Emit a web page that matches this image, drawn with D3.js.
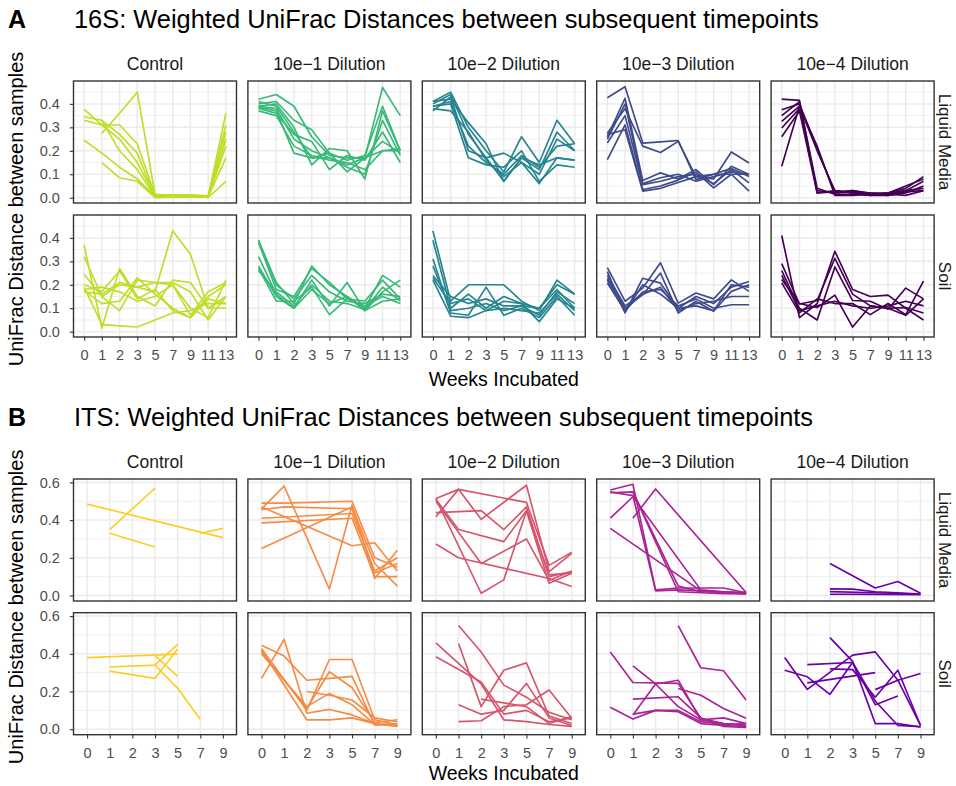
<!DOCTYPE html>
<html>
<head>
<meta charset="utf-8">
<script src="https://cdn.jsdelivr.net/npm/d3@7"></script>
<style>
  body { margin: 0; background: #fff; }
  svg { font-family: "Liberation Sans", Arial, sans-serif; }
</style>
</head>
<body>
<div id="vis"></div>
<script>
// categories
const weeks16S = ["0", "1", "2", "3", "5", "7", "9", "11", "13"];
const weeksITS = ["0", "1", "2", "3", "5", "7", "9"];
const dilutions = ["Control", "10e\u22121 Dilution", "10e\u22122 Dilution", "10e\u22123 Dilution", "10e\u22124 Dilution"];
const media = ["Liquid Media", "Soil"];
const ticks16S = [0, 0.1, 0.2, 0.3, 0.4];
const ticksITS = [0, 0.2, 0.4, 0.6];

// 16S, liquid media: one array per sample, value per week
const s16LiquidControl = [
  [0.377, 0.31, 0.31, 0.23, 0.01, 0.012, 0.01, 0.005, 0.36],
  [0.345, 0.33, 0.2, 0.12, 0.005, 0.005, 0.005, 0.003, 0.31],
  [null, 0.275, 0.36, 0.45, 0.015, 0.01, 0.012, 0.008, 0.28],
  [0.245, 0.19, 0.13, 0.08, 0.005, 0.004, 0.003, 0.002, 0.25],
  [null, 0.15, 0.085, 0.07, 0.0, 0.002, 0.004, 0.001, 0.07],
  [0.33, 0.31, 0.25, 0.15, 0.008, 0.006, 0.006, 0.004, 0.22],
  [null, 0.33, 0.27, 0.19, 0.003, 0.003, 0.002, 0.003, 0.17]
];
const s16LiquidD1 = [
  [0.42, 0.44, 0.39, 0.26, 0.18, 0.17, 0.17, 0.47, 0.35],
  [0.40, 0.41, 0.33, 0.29, 0.19, 0.16, 0.18, 0.39, 0.2],
  [0.39, 0.40, 0.30, 0.14, 0.21, 0.2, 0.08, 0.37, 0.2],
  [0.38, 0.36, 0.27, 0.24, 0.12, 0.18, 0.16, 0.28, 0.15],
  [0.41, 0.39, 0.28, 0.17, 0.17, 0.14, 0.17, 0.24, 0.19],
  [0.37, 0.35, 0.22, 0.18, 0.16, 0.15, 0.12, 0.20, 0.21],
  [0.39, 0.38, 0.25, 0.2, 0.17, 0.13, 0.1, 0.33, 0.18],
  [0.385, 0.37, 0.19, 0.17, 0.19, 0.11, 0.17, 0.2, 0.2]
];
const s16LiquidD2 = [
  [0.41, 0.45, 0.30, 0.2, 0.11, 0.26, 0.15, 0.33, 0.23],
  [0.40, 0.44, 0.27, 0.17, 0.07, 0.17, 0.12, 0.28, 0.2],
  [0.39, 0.40, 0.17, 0.14, 0.13, 0.2, 0.07, 0.14, 0.13],
  [0.37, 0.43, 0.2, 0.17, 0.19, 0.15, 0.06, 0.17, 0.16],
  [0.38, 0.37, 0.28, 0.16, 0.09, 0.15, 0.1, 0.25, 0.2],
  [0.41, 0.42, 0.32, 0.23, 0.07, 0.17, 0.14, 0.17, 0.16],
  [0.39, 0.41, 0.22, 0.15, 0.1, 0.18, 0.13, 0.22, 0.23]
];
const s16LiquidD3 = [
  [0.426, 0.473, 0.233, 0.238, 0.244, 0.077, 0.1, 0.1, 0.1],
  [0.275, 0.38, 0.22, 0.193, 0.24, 0.09, 0.08, 0.195, 0.148],
  [0.26, 0.424, 0.073, 0.106, 0.08, 0.12, 0.056, 0.134, 0.099],
  [0.233, 0.35, 0.056, 0.07, 0.09, 0.1, 0.06, 0.12, 0.063],
  [0.162, 0.31, 0.035, 0.05, 0.075, 0.11, 0.042, 0.1, 0.028],
  [0.27, 0.29, 0.028, 0.04, 0.065, 0.09, 0.1, 0.125, 0.09],
  [0.25, 0.4, 0.06, 0.085, 0.1, 0.07, 0.09, 0.11, 0.1]
];
const s16LiquidD4 = [
  [0.42, 0.415, 0.02, 0.03, 0.02, 0.015, 0.02, 0.04, 0.09],
  [0.375, 0.40, 0.21, 0.02, 0.03, 0.02, 0.015, 0.03, 0.07],
  [0.325, 0.39, 0.2, 0.03, 0.02, 0.01, 0.01, 0.02, 0.05],
  [0.297, 0.38, 0.03, 0.02, 0.025, 0.02, 0.02, 0.03, 0.04],
  [0.26, 0.37, 0.02, 0.025, 0.03, 0.015, 0.01, 0.025, 0.03],
  [0.134, 0.39, 0.22, 0.01, 0.01, 0.015, 0.015, 0.01, 0.03],
  [0.35, 0.41, 0.04, 0.015, 0.015, 0.01, 0.02, 0.05, 0.08]
];

// 16S, soil
const s16SoilControl = [
  [0.37, 0.015, 0.27, 0.15, 0.11, 0.22, 0.21, 0.1, 0.1],
  [0.32, 0.15, 0.2, 0.19, 0.17, 0.43, 0.33, 0.1, 0.15],
  [0.245, 0.15, 0.09, 0.22, 0.21, 0.2, 0.07, 0.17, 0.21],
  [0.19, 0.03, 0.025, 0.02, 0.05, 0.08, 0.09, 0.12, 0.12],
  [0.18, 0.19, 0.17, 0.13, 0.15, 0.2, 0.1, 0.06, 0.22],
  [0.17, 0.16, 0.21, 0.19, 0.21, 0.21, 0.17, 0.05, 0.15],
  [0.2, 0.17, 0.26, 0.14, 0.18, 0.09, 0.06, 0.14, 0.12],
  [0.175, 0.12, 0.13, 0.23, 0.16, 0.1, 0.06, 0.15, 0.2]
];
const s16SoilD1 = [
  [0.39, 0.21, 0.12, 0.28, 0.2, 0.15, 0.1, 0.24, 0.19],
  [0.38, 0.18, 0.15, 0.27, 0.21, 0.14, 0.13, 0.22, 0.14],
  [0.32, 0.16, 0.1, 0.22, 0.11, 0.21, 0.09, 0.17, 0.22],
  [0.27, 0.13, 0.13, 0.19, 0.073, 0.14, 0.11, 0.15, 0.12],
  [0.26, 0.17, 0.11, 0.2, 0.13, 0.12, 0.095, 0.19, 0.13],
  [0.39, 0.2, 0.14, 0.24, 0.17, 0.13, 0.12, 0.16, 0.15],
  [0.28, 0.15, 0.1, 0.18, 0.12, 0.15, 0.09, 0.13, 0.14]
];
const s16SoilD2 = [
  [0.43, 0.13, 0.2, 0.2, 0.2, 0.13, 0.09, 0.22, 0.16],
  [0.39, 0.1, 0.16, 0.1, 0.15, 0.12, 0.1, 0.18, 0.1],
  [0.31, 0.08, 0.07, 0.19, 0.07, 0.1, 0.06, 0.15, 0.07],
  [0.24, 0.15, 0.12, 0.14, 0.11, 0.11, 0.1, 0.2, 0.16],
  [0.22, 0.066, 0.06, 0.09, 0.13, 0.12, 0.043, 0.14, 0.1],
  [0.23, 0.12, 0.14, 0.09, 0.1, 0.09, 0.08, 0.16, 0.09],
  [0.28, 0.09, 0.1, 0.12, 0.09, 0.11, 0.07, 0.17, 0.12]
];
const s16SoilD3 = [
  [0.273, 0.13, 0.186, 0.294, 0.122, 0.165, 0.14, 0.221, 0.172],
  [0.256, 0.08, 0.228, 0.207, 0.1, 0.15, 0.12, 0.19, 0.214],
  [0.228, 0.1, 0.158, 0.25, 0.08, 0.13, 0.087, 0.172, 0.2],
  [0.207, 0.09, 0.17, 0.18, 0.11, 0.14, 0.1, 0.115, 0.115],
  [0.24, 0.11, 0.16, 0.19, 0.09, 0.12, 0.13, 0.15, 0.15],
  [0.22, 0.085, 0.2, 0.16, 0.1, 0.11, 0.09, 0.2, 0.19]
];
const s16SoilD4 = [
  [0.41, 0.06, 0.12, 0.343, 0.18, 0.15, 0.156, 0.1, 0.05],
  [0.29, 0.118, 0.133, 0.313, 0.16, 0.11, 0.1, 0.07, 0.14],
  [0.26, 0.1, 0.05, 0.276, 0.133, 0.13, 0.096, 0.186, 0.14],
  [0.223, 0.12, 0.103, 0.156, 0.02, 0.11, 0.1, 0.103, 0.08],
  [0.208, 0.08, 0.14, 0.12, 0.12, 0.073, 0.12, 0.073, 0.216],
  [0.24, 0.09, 0.11, 0.13, 0.11, 0.1, 0.11, 0.13, 0.11]
];

// ITS, liquid media
const itsLiquidControl = [
  [0.485, null, null, null, null, null, 0.307],
  [null, null, null, null, null, 0.33, 0.356],
  [null, 0.35, null, 0.57, null, null, null],
  [null, 0.33, null, 0.257, null, null, null]
];
const itsLiquidD1 = [
  [0.49, 0.49, null, null, 0.50, 0.2, 0.15],
  [0.46, 0.58, null, 0.034, 0.48, 0.09, 0.24],
  [0.41, null, null, null, 0.435, 0.13, 0.2],
  [0.385, null, null, null, 0.41, 0.1, 0.1],
  [0.25, null, null, null, 0.47, 0.17, 0.05],
  [0.47, null, null, null, 0.264, 0.28, 0.13],
  [0.455, 0.47, null, null, 0.46, 0.12, 0.17]
];
const itsLiquidD2 = [
  [0.418, 0.563, null, null, 0.494, 0.16, 0.23],
  [0.515, 0.563, 0.404, null, 0.585, 0.127, 0.224],
  [0.44, null, 0.45, 0.35, 0.47, 0.1, 0.127],
  [0.515, null, 0.012, 0.083, 0.45, 0.065, 0.118],
  [0.273, 0.2, null, null, null, 0.09, 0.048],
  [0.51, 0.35, null, 0.286, 0.45, 0.11, 0.12],
  [0.5, null, 0.17, null, 0.3, 0.08, 0.13]
];
const itsLiquidD3 = [
  [0.56, 0.59, 0.03, 0.04, 0.04, 0.04, 0.015],
  [0.545, 0.55, null, 0.05, 0.02, 0.02, 0.012],
  [0.41, 0.524, null, null, 0.03, 0.02, 0.016],
  [null, 0.41, 0.565, null, null, null, 0.016],
  [0.356, null, null, null, 0.025, 0.02, 0.01],
  [0.55, 0.53, 0.025, 0.03, 0.025, 0.015, 0.01],
  [null, 0.55, null, 0.02, 0.015, 0.01, 0.008]
];
const itsLiquidD4 = [
  [null, null, 0.17, null, 0.04, 0.074, 0.012],
  [null, null, 0.035, 0.034, 0.02, 0.015, 0.008],
  [null, null, 0.021, null, 0.015, null, 0.007],
  [null, null, 0.007, null, 0.006, null, 0.004]
];

// ITS, soil
const itsSoilControl = [
  [0.38, null, null, null, 0.398, null, null],
  [null, 0.33, null, 0.34, 0.45, null, null],
  [null, 0.308, null, 0.27, 0.425, null, null],
  [null, null, null, 0.39, 0.28, null, null],
  [null, null, null, 0.34, 0.217, 0.053, null]
];
const itsSoilD1 = [
  [0.27, 0.476, 0.085, 0.105, 0.076, 0.03, 0.02],
  [0.446, 0.388, 0.26, 0.27, 0.28, 0.023, 0.03],
  [0.428, null, 0.1, 0.37, 0.37, 0.05, 0.023],
  [0.41, null, 0.11, 0.305, 0.22, 0.035, 0.05],
  [0.42, null, 0.05, 0.05, 0.06, 0.03, 0.015],
  [null, null, 0.2, 0.18, 0.155, 0.06, 0.04],
  [0.4, null, 0.12, 0.19, 0.13, 0.025, 0.02]
];
const itsSoilD2 = [
  [0.458, null, 0.24, 0.05, 0.04, 0.025, 0.015],
  [0.384, null, 0.25, 0.08, 0.1, 0.04, 0.06],
  [null, 0.55, 0.41, 0.234, 0.17, 0.09, 0.05],
  [null, 0.455, 0.12, 0.313, 0.352, 0.07, 0.03],
  [null, 0.13, 0.08, 0.1, 0.243, 0.06, 0.02],
  [null, 0.04, 0.045, 0.12, 0.13, 0.208, 0.058],
  [null, null, 0.16, 0.14, 0.12, 0.03, 0.067]
];
const itsSoilD3 = [
  [0.41, 0.248, null, 0.243, 0.058, 0.03, 0.02],
  [0.116, 0.054, 0.1, 0.093, 0.03, 0.02, 0.013],
  [null, 0.336, 0.24, 0.12, 0.05, 0.06, 0.03],
  [null, 0.16, null, 0.172, 0.06, 0.015, 0.01],
  [null, 0.075, 0.24, 0.26, 0.05, 0.03, 0.02],
  [null, null, null, 0.55, 0.326, 0.31, 0.155],
  [null, null, null, 0.216, 0.18, 0.11, 0.058],
  [null, 0.08, 0.1, 0.1, 0.04, 0.025, 0.03]
];
const itsSoilD4 = [
  [0.38, 0.211, null, 0.393, 0.41, 0.26, 0.296],
  [0.313, 0.278, 0.185, 0.354, 0.13, 0.176, null],
  [null, 0.343, null, 0.354, 0.15, 0.02, 0.014],
  [null, null, 0.486, 0.36, 0.03, 0.03, 0.012],
  [null, null, 0.32, 0.316, 0.17, 0.313, 0.02],
  [null, 0.246, null, null, 0.3, null, null],
  [null, null, null, null, 0.21, 0.26, 0.02]
];

const width = 956, height = 786;
const panelLeft = 73.5, panelW = 163, panelGap = 11.4, panelH = 122;

const sections = [
  {
    tag: "A",
    title: "16S: Weighted UniFrac Distances between subsequent timepoints",
    titleY: 28, stripY: 70, rowTops: [81, 215], xTitleY: 386,
    weeks: weeks16S, ticks: ticks16S, minor: [0.05, 0.15, 0.25, 0.35, 0.45],
    domain: [-0.0225, 0.4975],
    color: i => d3.interpolateViridis(0.9 - 0.225 * i),
    data: [
      [s16LiquidControl, s16LiquidD1, s16LiquidD2, s16LiquidD3, s16LiquidD4],
      [s16SoilControl, s16SoilD1, s16SoilD2, s16SoilD3, s16SoilD4]
    ]
  },
  {
    tag: "B",
    title: "ITS: Weighted UniFrac Distances between subsequent timepoints",
    titleY: 426, stripY: 468, rowTops: [479, 612.7], xTitleY: 780,
    weeks: weeksITS, ticks: ticksITS, minor: [0.1, 0.3, 0.5],
    domain: [-0.029, 0.618],
    color: i => d3.interpolatePlasma(0.9 - 0.175 * i),
    data: [
      [itsLiquidControl, itsLiquidD1, itsLiquidD2, itsLiquidD3, itsLiquidD4],
      [itsSoilControl, itsSoilD1, itsSoilD2, itsSoilD3, itsSoilD4]
    ]
  }
];

const svg = d3.select("#vis")
  .append("svg")
  .attr("width", width)
  .attr("height", height);

sections.forEach(sec => {
  // headers
  svg.append("text")
    .attr("x", 8).attr("y", sec.titleY)
    .attr("font-size", 25).attr("font-weight", "bold")
    .text(sec.tag);
  svg.append("text")
    .attr("x", 74).attr("y", sec.titleY)
    .attr("font-size", 25.4)
    .text(sec.title);

  dilutions.forEach((dil, c) => {
    const x0 = panelLeft + c * (panelW + panelGap);
    const x = d3.scalePoint().domain(sec.weeks).range([x0, x0 + panelW]).padding(0.6);

    svg.append("text")
      .attr("x", x0 + panelW / 2).attr("y", sec.stripY)
      .attr("text-anchor", "middle")
      .attr("font-size", 17.5).attr("fill", "#1a1a1a")
      .text(dil);

    media.forEach((med, r) => {
      const top = sec.rowTops[r];
      const y = d3.scaleLinear().domain(sec.domain).range([top + panelH, top]);
      const g = svg.append("g");

      // grid
      g.selectAll(".minor").data(sec.minor).enter().append("line")
        .attr("x1", x0).attr("x2", x0 + panelW)
        .attr("y1", d => y(d)).attr("y2", d => y(d))
        .attr("stroke", "#ebebeb").attr("stroke-width", 0.8);
      g.selectAll(".major").data(sec.ticks).enter().append("line")
        .attr("x1", x0).attr("x2", x0 + panelW)
        .attr("y1", d => y(d)).attr("y2", d => y(d))
        .attr("stroke", "#ebebeb").attr("stroke-width", 1.5);
      g.selectAll(".vgrid").data(sec.weeks).enter().append("line")
        .attr("x1", d => x(d)).attr("x2", d => x(d))
        .attr("y1", top).attr("y2", top + panelH)
        .attr("stroke", "#ebebeb").attr("stroke-width", 1.5);

      // lines
      const line = d3.line().x(d => x(d.w)).y(d => y(d.v));
      const series = sec.data[r][c].map(arr =>
        arr.map((v, i) => ({ w: sec.weeks[i], v })).filter(p => p.v !== null));
      g.selectAll(".series").data(series).enter().append("path")
        .attr("d", line)
        .attr("fill", "none")
        .attr("stroke", sec.color(c))
        .attr("stroke-width", 1.65)
        .attr("stroke-linejoin", "round");

      // border
      g.append("rect")
        .attr("x", x0).attr("y", top)
        .attr("width", panelW).attr("height", panelH)
        .attr("fill", "none").attr("stroke", "#333333").attr("stroke-width", 1.4);

      if (c === 0) {
        const ax = svg.append("g")
          .attr("transform", `translate(${x0},0)`)
          .call(d3.axisLeft(y).tickValues(sec.ticks).tickFormat(d3.format(".1f")).tickSize(3.7).tickPadding(10));
        ax.select(".domain").remove();
        ax.selectAll("line").attr("stroke", "#333333").attr("stroke-width", 1.1);
        ax.selectAll("text").attr("font-size", 14.5).attr("fill", "#4d4d4d")
          .attr("font-family", '"Liberation Sans", Arial, sans-serif');
      }
      if (r === 1) {
        const ax = svg.append("g")
          .attr("transform", `translate(0,${top + panelH})`)
          .call(d3.axisBottom(x).tickSize(3.7).tickPadding(9));
        ax.select(".domain").remove();
        ax.selectAll("line").attr("stroke", "#333333").attr("stroke-width", 1.1);
        ax.selectAll("text").attr("font-size", 14.5).attr("fill", "#4d4d4d")
          .attr("font-family", '"Liberation Sans", Arial, sans-serif');
      }
      if (c === dilutions.length - 1) {
        const cy = top + panelH / 2;
        svg.append("text")
          .attr("transform", `translate(939,${cy}) rotate(90)`)
          .attr("text-anchor", "middle")
          .attr("font-size", 17).attr("fill", "#1a1a1a")
          .text(med);
      }
    });
  });

  // axis titles
  const midY = (sec.rowTops[0] + sec.rowTops[1] + panelH) / 2;
  svg.append("text")
    .attr("transform", `translate(23,${midY}) rotate(-90)`)
    .attr("text-anchor", "middle")
    .attr("font-size", 20)
    .text("UniFrac Distance between samples");
  svg.append("text")
    .attr("x", panelLeft + (5 * panelW + 4 * panelGap) / 2)
    .attr("y", sec.xTitleY)
    .attr("text-anchor", "middle")
    .attr("font-size", 19.5)
    .text("Weeks Incubated");
});
</script>
</body>
</html>
